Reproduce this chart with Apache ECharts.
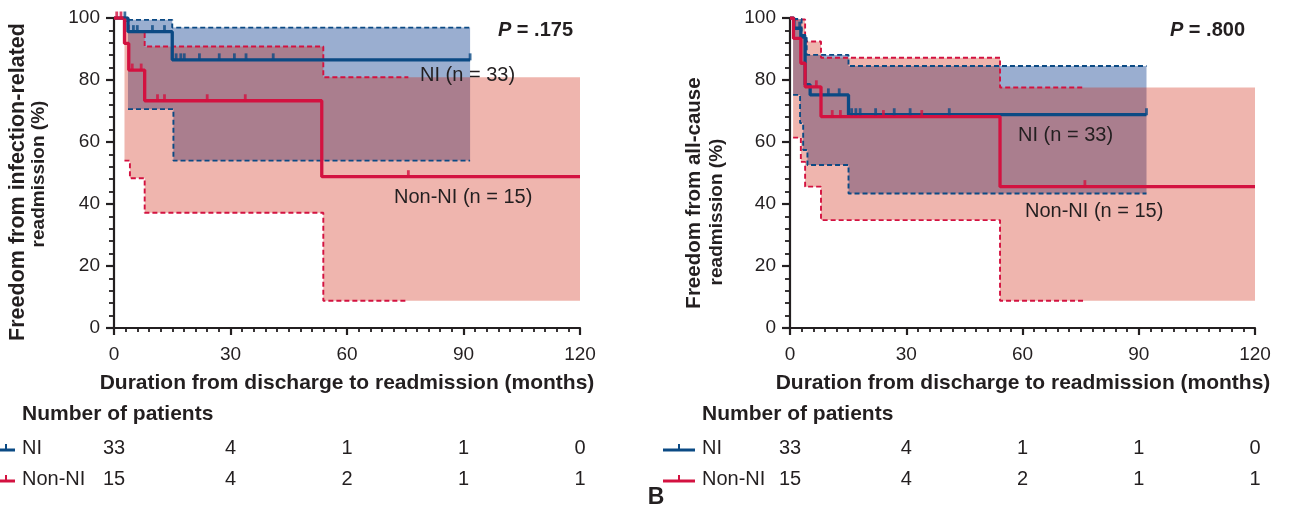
<!DOCTYPE html>
<html><head><meta charset="utf-8">
<script src="https://cdn.jsdelivr.net/npm/echarts@6/dist/echarts.min.js"></script>
<style>html,body{margin:0;padding:0;background:#fff}#c{width:1289px;height:513px}</style>
</head><body><div id="c"></div>
<script>
// ---------- data ----------
const xTickValues = [0, 30, 60, 90, 120];
const riskNI = [33, 4, 1, 1, 0];
const riskNonNI = [15, 4, 2, 1, 1];

// Panel 1: infection-related readmission
const p1NITimes = [0, 3.6, 15.0];
const p1NISurv = [100, 95.6, 86.5];
const p1NIEnd = 91.7;
const p1NICensor = [2.8, 5.0, 6.0, 9.9, 13.0, 16.0, 17.2, 18.1, 22.0, 27.1, 31.0, 34.0, 41.0, 91.7];
const p1NIUpTimes = [3.6, 15.0];
const p1NIUp = [99.4, 96.9];
const p1NILoTimes = [3.6, 15.3];
const p1NILo = [70.6, 54.0];
const p1NIBandEnd = 91.7;

const p1NonTimes = [0, 2.7, 3.8, 7.9, 53.5];
const p1NonSurv = [100, 91.8, 83.2, 73.3, 48.8];
const p1NonEnd = 120;
const p1NonCensor = [0.7, 1.8, 4.7, 7.0, 11.2, 13.0, 24.0, 33.8, 75.8];
const p1NonUpTimes = [2.7, 3.8, 7.9, 53.9];
const p1NonUp = [99.0, 95.6, 90.8, 80.9];
const p1NonLoTimes = [2.7, 4.1, 7.9, 53.9];
const p1NonLo = [54.0, 48.3, 37.2, 8.8];
const p1NonBandEnd = 120;
const p1NonDashEnd = 75.8;

// Panel 2: all-cause readmission
const p2NITimes = [0, 1.0, 2.8, 3.9, 5.2, 15.1];
const p2NISurv = [100, 96.7, 93.8, 78.5, 75.2, 68.8];
const p2NIEnd = 92.0;
const p2NICensor = [2.5, 9.9, 12.7, 15.9, 17.0, 18.1, 22.1, 26.9, 31.0, 41.1, 92.0];
const p2NIUpTimes = [0.8, 3.0, 4.3, 15.1];
const p2NIUp = [99.7, 94.5, 88.1, 84.5];
const p2NILoTimes = [0.8, 2.6, 3.4, 4.5, 15.1];
const p2NILo = [75.2, 66.1, 57.4, 52.6, 43.4];
const p2NIBandEnd = 92.0;

const p2NonTimes = [0, 0.9, 2.8, 3.9, 8.0, 54.2];
const p2NonSurv = [100, 93.4, 85.4, 77.8, 68.2, 45.6];
const p2NonEnd = 120;
const p2NonCensor = [6.8, 10.9, 13.0, 24.1, 34.0, 76.1];
const p2NonUpTimes = [0.8, 3.9, 8.0, 54.2];
const p2NonUp = [99.5, 92.4, 87.2, 77.6];
const p2NonLoTimes = [0.8, 2.8, 3.9, 8.0, 54.2];
const p2NonLo = [61.4, 53.6, 45.6, 34.8, 8.8];
const p2NonBandEnd = 120;
const p2NonDashEnd = 76.1;

// ---------- style ----------
const BLUE = '#0b4a84';
const RED = '#d31240';
const BLUE_FILL = '#9aaed0';
const RED_FILL = 'rgba(205,24,2,0.32)';
const INK = '#231f20';
const FONT = '"Liberation Sans", Arial, Helvetica, sans-serif';

function stepPts(times, vals, end) {
  const pts = [];
  for (let i = 0; i < times.length; i++) {
    if (i > 0) pts.push([times[i], vals[i - 1]]);
    pts.push([times[i], vals[i]]);
  }
  pts.push([end, vals[vals.length - 1]]);
  return pts;
}
function survAt(times, vals, t) {
  let v = vals[0];
  for (let i = 0; i < times.length; i++) if (times[i] <= t) v = vals[i];
  return v;
}

function bandSeries(idx, upT, up, loT, lo, end, fill, z) {
  const upper = stepPts(upT, up, end);
  const lower = stepPts(loT, lo, end).reverse();
  const poly = upper.concat(lower);
  return {
    type: 'custom', xAxisIndex: idx, yAxisIndex: idx, z: z, silent: true,
    data: [[0, 0]],
    renderItem: function (params, api) {
      return {
        type: 'polygon',
        shape: { points: poly.map(p => api.coord(p)) },
        style: { fill: fill }
      };
    }
  };
}
function dashSeries(idx, t, v, end, color) {
  return {
    type: 'line', xAxisIndex: idx, yAxisIndex: idx, z: 3, silent: true,
    showSymbol: false, data: stepPts(t, v, end),
    lineStyle: { color: color, width: 1.9, type: [5, 3] }
  };
}
function survSeries(idx, t, v, end, color) {
  return {
    type: 'line', xAxisIndex: idx, yAxisIndex: idx, z: 4, silent: true,
    showSymbol: false, data: stepPts(t, v, end),
    lineStyle: { color: color, width: 3.3 }
  };
}
function censorSeries(idx, cens, t, v, color) {
  return {
    type: 'scatter', xAxisIndex: idx, yAxisIndex: idx, z: 5, silent: true,
    symbol: 'rect', symbolSize: [2.8, 7], symbolOffset: [0, -3],
    itemStyle: { color: color },
    data: cens.map(c => [c, survAt(t, v, c)])
  };
}

function xAxisCfg(idx) {
  return {
    type: 'value', gridIndex: idx, min: 0, max: 120, interval: 30,
    axisLine: { onZero: false, lineStyle: { color: INK, width: 2.2 } },
    axisTick: { length: 7, lineStyle: { color: INK, width: 2.2 } },
    minorTick: { show: true, splitNumber: 10, length: 4, lineStyle: { color: INK, width: 1.8 } },
    splitLine: { show: false },
    axisLabel: { color: INK, fontSize: 19, fontFamily: FONT, margin: 17 }
  };
}
function yAxisCfg(idx) {
  return {
    type: 'value', gridIndex: idx, min: 0, max: 100, interval: 20,
    axisLine: { show: true, lineStyle: { color: INK, width: 2.2 } },
    axisTick: { show: true, length: 8, lineStyle: { color: INK, width: 2.2 } },
    minorTick: { show: true, splitNumber: 5, length: 5, lineStyle: { color: INK, width: 1.8 } },
    splitLine: { show: false },
    axisLabel: { color: INK, fontSize: 19, fontFamily: FONT, margin: 14 }
  };
}

const series = [
  bandSeries(0, p1NIUpTimes, p1NIUp, p1NILoTimes, p1NILo, p1NIBandEnd, BLUE_FILL, 1),
  bandSeries(0, p1NonUpTimes, p1NonUp, p1NonLoTimes, p1NonLo, p1NonBandEnd, RED_FILL, 2),
  dashSeries(0, p1NonUpTimes, p1NonUp, p1NonDashEnd, RED),
  dashSeries(0, p1NonLoTimes, p1NonLo, p1NonDashEnd, RED),
  dashSeries(0, p1NIUpTimes, p1NIUp, p1NIBandEnd, BLUE),
  dashSeries(0, p1NILoTimes, p1NILo, p1NIBandEnd, BLUE),
  survSeries(0, p1NITimes, p1NISurv, p1NIEnd, BLUE),
  survSeries(0, p1NonTimes, p1NonSurv, p1NonEnd, RED),
  censorSeries(0, p1NICensor, p1NITimes, p1NISurv, BLUE),
  censorSeries(0, p1NonCensor, p1NonTimes, p1NonSurv, RED),

  bandSeries(1, p2NIUpTimes, p2NIUp, p2NILoTimes, p2NILo, p2NIBandEnd, BLUE_FILL, 1),
  bandSeries(1, p2NonUpTimes, p2NonUp, p2NonLoTimes, p2NonLo, p2NonBandEnd, RED_FILL, 2),
  dashSeries(1, p2NonUpTimes, p2NonUp, p2NonDashEnd, RED),
  dashSeries(1, p2NonLoTimes, p2NonLo, p2NonDashEnd, RED),
  dashSeries(1, p2NIUpTimes, p2NIUp, p2NIBandEnd, BLUE),
  dashSeries(1, p2NILoTimes, p2NILo, p2NIBandEnd, BLUE),
  survSeries(1, p2NITimes, p2NISurv, p2NIEnd, BLUE),
  survSeries(1, p2NonTimes, p2NonSurv, p2NonEnd, RED),
  censorSeries(1, p2NICensor, p2NITimes, p2NISurv, BLUE),
  censorSeries(1, p2NonCensor, p2NonTimes, p2NonSurv, RED)
];

const chart = echarts.init(document.getElementById('c'), null, { renderer: 'canvas' });
chart.setOption({
  animation: false,
  backgroundColor: '#fff',
  grid: [
    { left: 114, top: 18, width: 466, height: 310 },
    { left: 790, top: 18, width: 465, height: 310 }
  ],
  xAxis: [xAxisCfg(0), xAxisCfg(1)],
  yAxis: [yAxisCfg(0), yAxisCfg(1)],
  series: series
});

// ---------- text / table ----------
function txt(x, y, s, o) {
  return Object.assign({
    type: 'text', x: x, y: y, silent: true, z: 10,
    style: Object.assign({ text: s, fill: INK, font: '19px ' + FONT, textAlign: 'left', textVerticalAlign: 'middle' }, (o && o.style) || {})
  }, (o && o.el) || {});
}
function vtxt(x, y, s, size) {
  return { type: 'text', x: x, y: y, rotation: Math.PI / 2, silent: true, z: 10,
    style: { text: s, fill: INK, font: 'bold ' + size + 'px ' + FONT, textAlign: 'center', textVerticalAlign: 'middle' } };
}
const g = [];
const panels = [
  { idx: 0, yT1: 'Freedom from infection-related', yT1s: 21.5, yT1x: 18, yT1y: 182, yT2: 'readmission (%)', yT2x: 39, yT2y: 174,
    xTitleX: 347, p: '.175', pX: 573, niLbl: [420, 75], nonLbl: [394, 197], tblX: 22, mark: [0, 15, 6] },
  { idx: 1, yT1: 'Freedom from all-cause', yT1s: 20.5, yT1x: 694, yT1y: 193, yT2: 'readmission (%)', yT2x: 717, yT2y: 212,
    xTitleX: 1023, p: '.800', pX: 1245, niLbl: [1018, 135], nonLbl: [1025, 211], tblX: 702, mark: [663, 695, 679] }
];
panels.forEach(P => {
  g.push(vtxt(P.yT1x, P.yT1y, P.yT1, P.yT1s));
  g.push(vtxt(P.yT2x, P.yT2y, P.yT2, 19));
  g.push(txt(P.xTitleX, 383, 'Duration from discharge to readmission (months)', { style: { font: 'bold 21px ' + FONT, textAlign: 'center' } }));
  g.push({ type: 'text', x: P.pX, y: 30, silent: true, z: 10,
    style: { text: '{i|P} = ' + P.p, fill: INK, font: 'bold 20px ' + FONT, textAlign: 'right', textVerticalAlign: 'middle',
      rich: { i: { font: 'italic bold 20px ' + FONT, fill: INK } } } });
  g.push(txt(P.niLbl[0], P.niLbl[1], 'NI (n = 33)', { style: { font: '20px ' + FONT } }));
  g.push(txt(P.nonLbl[0], P.nonLbl[1], 'Non-NI (n = 15)', { style: { font: '20px ' + FONT } }));
  g.push(txt(P.tblX, 414, 'Number of patients', { style: { font: 'bold 21px ' + FONT } }));
  g.push(txt(P.tblX, 448, 'NI', { style: { font: '20px ' + FONT } }));
  g.push(txt(P.tblX, 479, 'Non-NI', { style: { font: '20px ' + FONT } }));
  [[BLUE, 448], [RED, 479]].forEach(([c, y]) => {
    g.push({ type: 'line', silent: true, shape: { x1: P.mark[0], y1: y + 2, x2: P.mark[1], y2: y + 2 }, style: { stroke: c, lineWidth: 3 } });
    g.push({ type: 'line', silent: true, shape: { x1: P.mark[2], y1: y + 2, x2: P.mark[2], y2: y - 4 }, style: { stroke: c, lineWidth: 2 } });
  });
  xTickValues.forEach((t, i) => {
    const px = chart.convertToPixel({ xAxisIndex: P.idx }, t);
    g.push(txt(px, 448, String(riskNI[i]), { style: { font: '20px ' + FONT, textAlign: 'center' } }));
    g.push(txt(px, 479, String(riskNonNI[i]), { style: { font: '20px ' + FONT, textAlign: 'center' } }));
  });
});
g.push(txt(656, 498, 'B', { style: { font: 'bold 23px ' + FONT, textAlign: 'center' } }));
chart.setOption({ graphic: g });
</script></body></html>
